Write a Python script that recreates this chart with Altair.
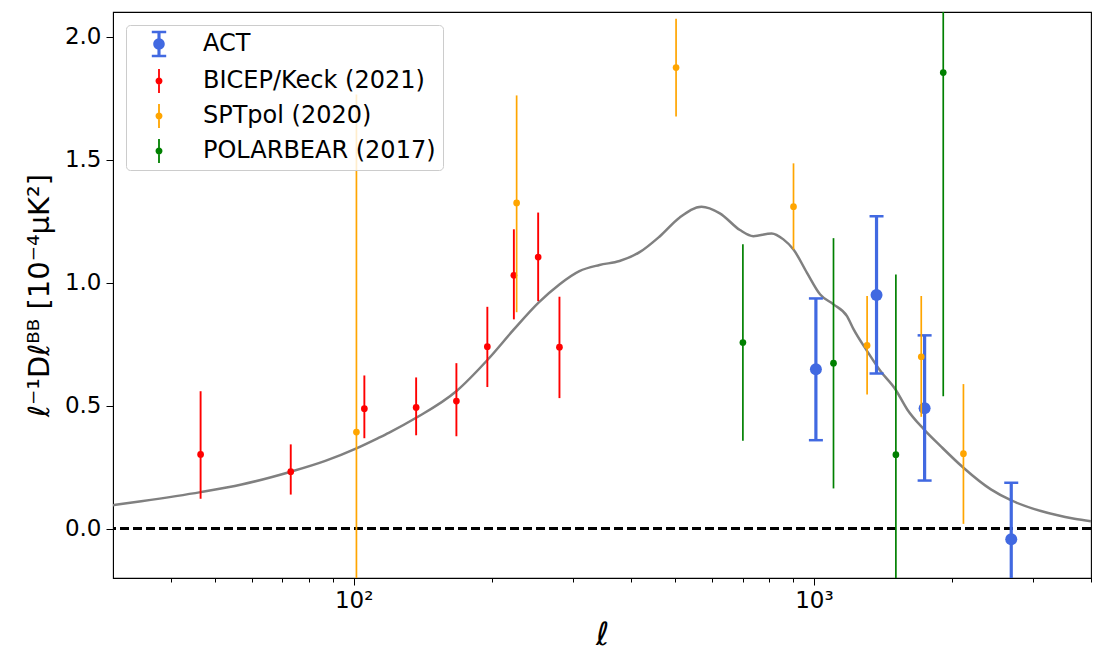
import altair as alt
import pandas as pd

# ---------------- data ----------------
experiments = ["ACT", "BICEP/Keck (2021)", "SPTpol (2020)", "POLARBEAR (2017)"]
colors = ["#4169E1", "#FF0000", "#FFA500", "#008000"]

act_ell = [1010, 1368, 1740, 2684]
act_val = [0.648, 0.950, 0.490, -0.043]
act_lo = [0.360, 0.631, 0.196, -0.275]
act_hi = [0.936, 1.270, 0.786, 0.187]

bk_ell = [46.5, 73.0, 105.5, 136.7, 167.2, 195.2, 222.9, 251.7, 280.0]
bk_val = [0.302, 0.232, 0.488, 0.493, 0.519, 0.740, 1.030, 1.104, 0.738]
bk_lo = [0.122, 0.139, 0.368, 0.380, 0.376, 0.576, 0.851, 0.925, 0.531]
bk_hi = [0.559, 0.343, 0.623, 0.615, 0.673, 0.902, 1.217, 1.285, 0.943]

spt_ell = [101.4, 226.0, 501.8, 903.0, 1305.0, 1711.0, 2113.0]
spt_val = [0.393, 1.324, 1.874, 1.309, 0.745, 0.699, 0.305]
spt_lo = [-0.980, 0.880, 1.675, 1.135, 0.546, 0.455, 0.020]
spt_hi = [1.765, 1.761, 2.073, 1.485, 0.946, 0.946, 0.588]

pb_ell = [701.0, 1103.0, 1507.0, 1910.0]
pb_val = [0.757, 0.673, 0.301, 1.854]
pb_lo = [0.358, 0.164, -0.431, 0.539]
pb_hi = [1.156, 1.181, 1.033, 3.170]

theory_ell = [30, 34.55, 46.48, 57.08, 73.0, 86.77, 101.4, 113.4, 119.2, 136.7, 167.1,
              195.7, 222.9, 252.2, 279.9, 309.4, 342.1, 378.2, 418.1, 462.3, 511.1,
              569.9, 624.7, 690.8, 738.6, 809.6, 858.4, 902.9, 965.4, 1032, 1103, 1180,
              1220, 1305, 1395, 1504, 1595, 1734, 1885, 2113, 2424, 2679, 3114, 3681, 4000]
theory_val = [0.096, 0.112, 0.149, 0.180, 0.232, 0.276, 0.327, 0.370, 0.390, 0.451, 0.559,
              0.688, 0.810, 0.919, 0.993, 1.047, 1.072, 1.088, 1.124, 1.188, 1.265,
              1.309, 1.282, 1.214, 1.189, 1.200, 1.176, 1.135, 1.041, 0.952, 0.912, 0.864,
              0.810, 0.722, 0.641, 0.566, 0.485, 0.404, 0.336, 0.248, 0.160, 0.116, 0.072,
              0.041, 0.031]

x_major = [100, 1000]
x_minor = [40, 50, 60, 70, 80, 90, 200, 300, 400, 500, 600, 700, 800, 900, 2000, 3000, 4000]
y_ticks = [0.0, 0.5, 1.0, 1.5, 2.0]


def frame(name, ell, val, lo, hi):
    return pd.DataFrame({"exp": name, "ell": ell, "val": val, "lo": lo, "hi": hi})


act_df = frame(experiments[0], act_ell, act_val, act_lo, act_hi)
bk_df = frame(experiments[1], bk_ell, bk_val, bk_lo, bk_hi)
spt_df = frame(experiments[2], spt_ell, spt_val, spt_lo, spt_hi)
pb_df = frame(experiments[3], pb_ell, pb_val, pb_lo, pb_hi)
all_df = pd.concat([act_df, bk_df, spt_df, pb_df], ignore_index=True)
theory_df = pd.DataFrame({"ell": theory_ell, "val": theory_val})

FONT = "DejaVu Sans"

x_scale = alt.Scale(type="log", domain=[30, 4000], nice=False)
y_scale = alt.Scale(domain=[-0.2, 2.1], nice=False, zero=False)

y_axis = alt.Axis(values=y_ticks, format=".1f", tickSize=7, tickColor="black",
                  labelFont=FONT, labelFontSize=23, labelColor="black", labelPadding=5,
                  grid=False, domainColor="black",
                  title="ℓ⁻¹Dℓᴮᴮ [10⁻⁴μK²]", titleFont=FONT, titleFontSize=29,
                  titleFontWeight="normal", titleColor="black", titlePadding=10)

x_axis_main = alt.Axis(values=x_major, orient="bottom",
                       labelExpr="datum.value == 100 ? '10²' : '10³'",
                       tickSize=7, tickColor="black", labelFont=FONT, labelFontSize=23,
                       labelColor="black", labelPadding=4, grid=False, domainColor="black",
                       title="ℓ", titleFont=FONT, titleFontSize=32, titleFontStyle="italic",
                       titleFontWeight="normal", titleColor="black", titlePadding=7)

x_axis_minor = alt.Axis(values=x_minor, orient="bottom", tickSize=4, tickColor="black",
                        labels=False, grid=False, domain=False, title=None)

X = alt.X("ell:Q", scale=x_scale, axis=x_axis_main)
Y = alt.Y("val:Q", scale=y_scale, axis=y_axis)

# legend glyphs (unit box -1..1 -> 24 px): filled bars + dot
small_path = ("M-0.075,-1H0.075V1H-0.075Z"
              "M-0.29,0A0.29,0.29,0,1,1,0.29,0A0.29,0.29,0,1,1,-0.29,0Z")
act_path = ("M-0.13,-1H0.13V1H-0.13Z"
            "M-0.6,-1.1H0.6V-0.9H-0.6Z"
            "M-0.6,0.9H0.6V1.1H-0.6Z"
            "M-0.48,0A0.48,0.48,0,1,1,0.48,0A0.48,0.48,0,1,1,-0.48,0Z")
glyphs = [act_path, small_path, small_path, small_path]

legend = alt.Legend(
    title=None, orient="none", legendX=13, legendY=13,
    labelFont=FONT, labelFontSize=24, labelColor="black", labelLimit=500,
    padding=7, rowPadding=11, symbolSize=576, symbolOffset=14, labelOffset=32,
    symbolStrokeWidth=0, symbolOpacity=1,
    fillColor="rgba(255,255,255,0.8)", strokeColor="#cccccc", cornerRadius=4,
)

color_scale = alt.Scale(domain=experiments, range=colors)

theory = alt.Chart(theory_df).mark_line(color="#808080", strokeWidth=2.5, clip=True,
                                        interpolate="monotone").encode(
    x=alt.X("ell:Q", scale=x_scale, axis=x_axis_minor), y=Y)

zero = alt.Chart(theory_df).mark_rule(color="black", strokeDash=[9, 4], strokeWidth=2.2).encode(
    y=alt.datum(0, scale=y_scale, axis=y_axis))


def bars(df, col, width, dot, caps=False):
    base = alt.Chart(df)
    lays = [base.mark_rule(color=col, strokeWidth=width, clip=True, opacity=1).encode(
        x=X, y=alt.Y("lo:Q", scale=y_scale, axis=y_axis), y2="hi:Q")]
    if caps:
        for c in ["lo", "hi"]:
            lays.append(base.mark_tick(color=col, orient="horizontal", size=14, thickness=2.5,
                                       clip=True, opacity=1).encode(
                x=X, y=alt.Y(f"{c}:Q", scale=y_scale, axis=y_axis)))
    lays.append(base.mark_circle(color=col, size=dot, opacity=1, clip=True).encode(x=X, y=Y))
    return lays


# legend-only layer: no rows pass the filter, the legend comes from the scale domains
legend_layer = alt.Chart(all_df).transform_filter("datum.ell < 0").mark_point(
    filled=True, size=576, opacity=1, strokeWidth=0).encode(
    x=X, y=Y,
    color=alt.Color("exp:N", scale=color_scale, legend=legend),
    shape=alt.Shape("exp:N", scale=alt.Scale(domain=experiments, range=glyphs), legend=legend),
)

data_layers = (bars(act_df, colors[0], 3.2, 144, caps=True) + bars(bk_df, colors[1], 1.9, 45)
               + bars(spt_df, colors[2], 1.7, 45) + bars(pb_df, colors[3], 1.7, 45))

inner = alt.layer(zero, *data_layers, legend_layer)

chart = alt.layer(theory, inner).resolve_axis(x="independent").properties(
    width=978, height=566,
    autosize=alt.AutoSizeParams(type="none"),
    padding={"left": 105, "top": 4, "right": 5, "bottom": 82},
).configure_view(stroke="black", strokeWidth=1.1)

chart.save("out.html", embed_options={"renderer": "svg", "actions": False})
